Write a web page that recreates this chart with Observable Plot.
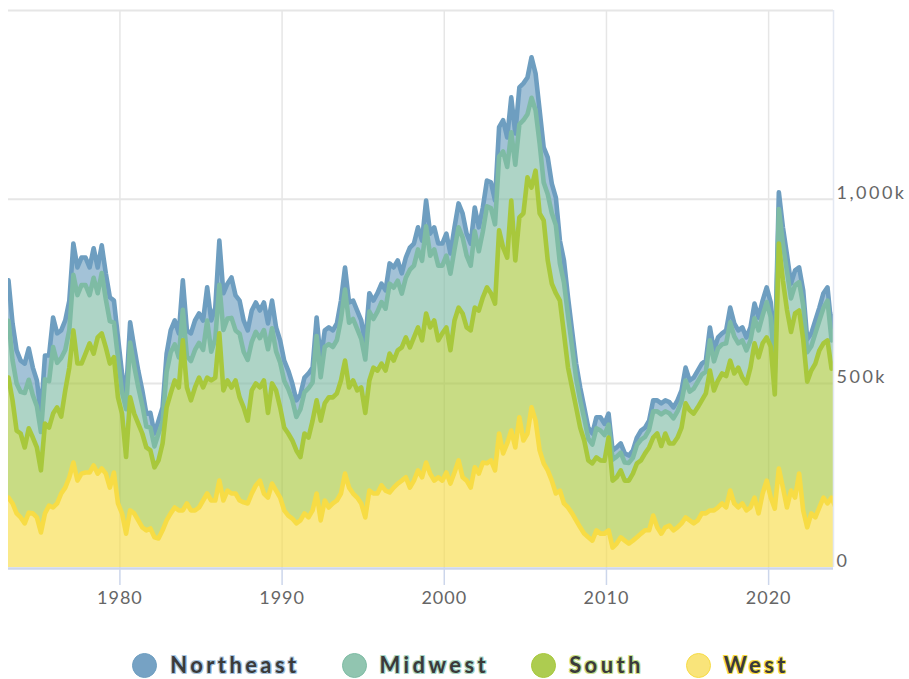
<!DOCTYPE html>
<html><head><meta charset="utf-8">
<script src="https://cdn.jsdelivr.net/npm/d3@7"></script>
<script src="https://cdn.jsdelivr.net/npm/@observablehq/plot@0.6"></script>
<style>
body{margin:0;background:#fff;font-family:Lato,sans-serif}
#chart svg{display:block}
#chart g[aria-label="y-axis tick label"]{letter-spacing:2.5px}
#chart g[aria-label="x-axis tick label"]{letter-spacing:1px}
.legend{display:flex;justify-content:center;align-items:center;margin-top:22px;padding-left:12px}
.item{display:flex;align-items:center;margin:0 21px}
.dot{width:25px;height:25px;border-radius:50%;box-sizing:border-box;border:1.5px solid}
.lab{margin-left:13px;font-weight:bold;font-size:22px;font-family:Lato,sans-serif;letter-spacing:3.4px;color:#3a3a3a;line-height:26px}
</style></head>
<body><div id="chart"></div><div class="legend" id="legend"></div>
<script>
// ---- data (thousands, seasonally adjusted annual rate), quarterly samples ----
const regions = ["Northeast", "Midwest", "South", "West"];
const stackOrder = ["West", "South", "Midwest", "Northeast"]; // bottom -> top
const lineColors = ["#6e9ec0", "#7ebba4", "#a8c83c", "#f7dc45"];
const dotColors = ["#76a2c4", "#91c5b0", "#adcc50", "#f9e47a"];
const outlineColors = ["#a9c6e0", "#a9d8c5", "#c9e18a", "#f7dc45"];
const startYear = 1973.13;
const stepYears = 0.25;
const xDomain = [1973.13, 2024];
const yMax = 1513;
const xTicks = [1980, 1990, 2000, 2010, 2020];
const yTicks = [0, 500, 1000];
const yGridLines = [500, 1000, 1513];

const west = [
190,174,147,136, 120,149,147,136, 95,147,168,163, 174,201,217,245, 285,236,255,258,
258,277,255,269, 255,217,258,174, 147,92,155,147, 128,109,101,106, 82,79,101,128,
147,163,155,155, 174,155,155,163, 182,201,182,182, 236,182,209,201, 201,182,177,174,
201,223,236,201, 190,228,209,190, 155,141,133,120, 128,147,136,155, 201,128,182,163,
174,182,201,255, 217,201,190,174, 136,209,201,201, 223,209,204,217, 228,236,245,217,
236,264,245,285, 255,236,245,236, 258,228,258,291, 245,236,217,272, 255,285,283,291,
264,364,310,337, 372,326,408,345, 364,435,399,318, 283,264,236,201, 209,174,163,147,
128,109,92,82, 73,101,92,92, 101,54,65,82, 73,65,73,82, 92,101,101,141,
109,92,109,114, 101,109,120,136, 128,120,128,147, 147,155,155,163, 174,163,209,174,
163,174,155,163, 190,147,201,236, 190,160,269,217, 163,209,190,255, 155,109,147,136,
163,190,174,190, 163];

const south = [
326,280,225,228, 206,229,206,190, 169,244,212,255, 261,209,264,298, 359,318,299,323,
351,304,370,367, 343,337,313,288, 271,208,307,271, 263,255,225,212, 190,212,236,307,
326,345,334,462, 315,299,334,353, 307,315,326,334, 400,299,299,288, 307,280,258,225,
280,277,253,307, 230,272,272,245, 225,223,212,198, 172,217,217,244, 253,271,264,299,
288,291,307,307, 272,307,291,315, 284,299,342,334, 331,326,377,345, 362,362,380,381,
389,388,372,405, 397,435,372,400, 394,362,413,415, 445,416,427,434, 443,449,478,454,
453,552,559,505, 625,508,543,617, 696,597,679,644, 660,570,535,544, 516,462,380,342,
307,271,253,209, 210,198,199,198, 252,182,180,182, 163,171,182,201, 199,209,225,212,
255,238,255,223, 236,244,260,310, 299,298,307,307, 326,380,326,345, 353,357,353,353,
380,342,345,380, 419,424,408,389, 410,310,611,563, 537,431,500,443, 465,396,388,418,
427,419,443,350, 399];

const midwest = [
154,109,128,113, 148,132,115,112, 104,120,126,181, 121,159,110,102, 151,186,213,186,
131,206,120,164, 131,115,94,108, 59,130,149,130, 99,77,57,62, 57,73,58,96,
111,98,82,83, 85,107,102,94, 102,155,78,105, 132,164,168,189, 136,173,151,165,
132,140,134,137, 173,150,106,122, 127,121,110,91, 130,112,134,104, 175,118,153,145,
137,145,167,193, 176,167,167,132, 145,187,132,160, 167,168,190,198, 189,146,162,211,
195,212,216,237, 195,193,203,184, 195,208,193,218, 207,195,176,207, 161,179,220,231,
215,200,261,246, 185,260,253,253, 171,244,164,190, 103,180,192,185, 101,138,141,110,
79,74,60,59, 51,79,81,70, 35,57,56,48, 49,48,43,50, 56,45,48,71,
60,86,60,82, 68,71,71,62, 51,68,70,70, 59,82,79,87, 79,89,104,101,
66,101,90,74, 68,73,76,96, 80,60,94,99, 105,91,77,77, 93,80,66,82,
81,96,108,77, 91];

const northeast = [
110,100,90,85, 80,85,75,70, 50,65,70,80, 80,75,80,80, 85,75,75,75,
75,80,70,75, 70,65,60,55, 50,40,55,50, 45,40,35,40, 35,35,40,50,
60,65,65,80, 70,75,80,80, 80,90,85,85, 120,100,95,110, 95,90,85,80,
85,80,75,75, 70,75,65,60, 55,50,45,45, 40,40,40,40, 50,45,45,45,
45,45,50,60, 55,50,50,50, 45,50,50,50, 50,50,55,55, 55,55,55,60,
60,60,55,70, 60,60,60,60, 60,55,60,65, 65,60,60,65, 65,65,70,70,
65,80,85,80, 95,85,100,100, 100,110,100,90, 95,100,80,75, 62,60,50,45,
40,35,30,30, 30,30,36,30, 30,25,25,25, 25,20,20,20, 25,25,25,30,
30,30,30,30, 30,30,30,35, 30,30,30,30, 30,35,30,30, 30,35,40,35,
35,35,35,35, 40,35,40,40, 40,30,45,45, 45,40,40,40, 40,35,35,35,
35,40,36,35, 45];

const seriesByRegion = {Northeast: northeast, Midwest: midwest, South: south, West: west};
const rows = regions.flatMap(r => seriesByRegion[r].map((v, i) => ({region: r, date: startYear + i * stepYears, value: v})));

const yFormat = d => d === 0 ? "0" : d3.format(",")(d) + "k";

const chart = Plot.plot({
  width: 909,
  height: 630,
  marginTop: 10,
  marginBottom: 63,
  marginLeft: 8,
  marginRight: 76,
  style: {fontFamily: "Lato, sans-serif", fontSize: "18px", background: "#fff", overflow: "visible"},
  x: {domain: xDomain},
  y: {domain: [0, yMax]},
  color: {domain: regions, range: lineColors},
  marks: [
    Plot.gridX(xTicks, {stroke: "#e6e6e6", strokeOpacity: 1, strokeWidth: 1.5}),
    Plot.gridY(yGridLines, {stroke: "#e6e6e6", strokeOpacity: 1, strokeWidth: 2}),
    Plot.areaY(rows, {x: "date", y: "value", z: "region", fill: "region", fillOpacity: 0.63, order: stackOrder, clip: true}),
    Plot.lineY(rows, Plot.stackY2({x: "date", y: "value", z: "region", stroke: "region", order: stackOrder, strokeWidth: 4.6, strokeLinejoin: "round", strokeLinecap: "round", clip: true})),
    Plot.ruleY([0], {stroke: "#ccd6eb", strokeWidth: 2.5, dy: 1}),
    Plot.ruleX([xDomain[1]], {stroke: "#e3e8f2", strokeWidth: 1.5}),
    Plot.axisX(xTicks, {tickSize: 18, tickPadding: 6, stroke: "#ccd6eb", strokeWidth: 1.5, fill: "#666", tickFormat: d => String(d), label: null}),
    Plot.axisY(yTicks, {anchor: "right", tickSize: 0, tickPadding: 3, dy: -6, fill: "#666", tickFormat: yFormat, label: null})
  ]
});
document.getElementById("chart").appendChild(chart);

const legend = document.getElementById("legend");
regions.forEach((r, i) => {
  const item = document.createElement("div");
  item.className = "item";
  const dot = document.createElement("span");
  dot.className = "dot";
  dot.style.background = dotColors[i];
  dot.style.borderColor = lineColors[i];
  const lab = document.createElement("span");
  lab.className = "lab";
  lab.textContent = r;
  const c = outlineColors[i];
  lab.style.textShadow = `-1px -1px 0 ${c}, 1px -1px 0 ${c}, -1px 1px 0 ${c}, 1px 1px 0 ${c}, 0 1px 0 ${c}, 1px 0 0 ${c}`;
  item.appendChild(dot);
  item.appendChild(lab);
  legend.appendChild(item);
});
</script>
</body></html>
